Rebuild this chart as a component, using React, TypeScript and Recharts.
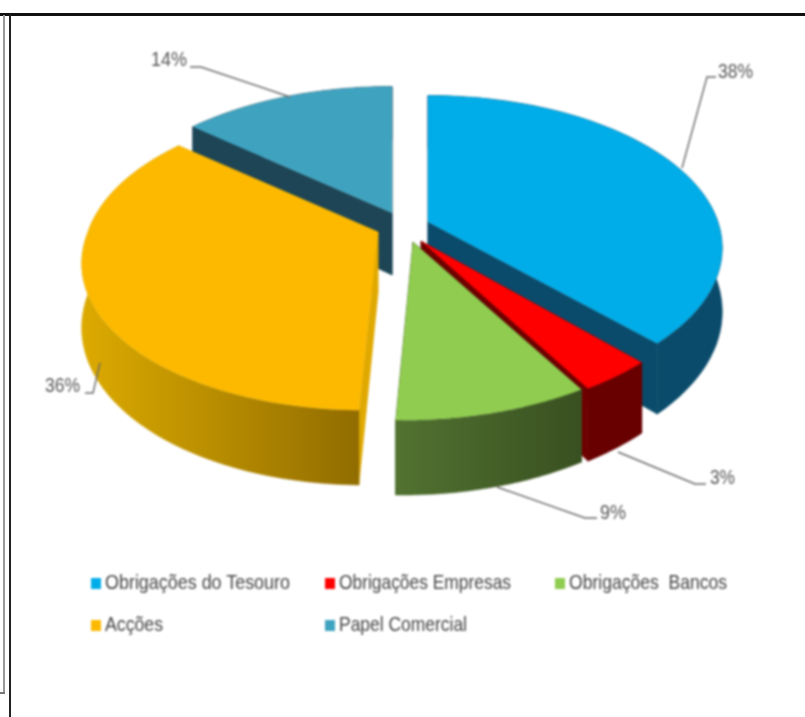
import { PieChart, Pie, Legend } from 'recharts'

const CATEGORIES = ['Obrigações do Tesouro', 'Obrigações Empresas', 'Obrigações  Bancos', 'Acções', 'Papel Comercial']
const SHARES = [37.8, 3.45, 9.05, 35.9, 13.8]
const SHARE_LABELS = ['38%', '3%', '9%', '36%', '14%']

// how each slice is drawn, same order as CATEGORIES
const SLICE_STYLES = [
  { top: '#00ade9', wall: '#0a4b6b', face: '#0a4b6b', dx: 28, dy: -8, lean: 0, text: [718, 71], textW: 35, leader: '716,77 707,77 682,168' },
  { top: '#fe0000', wall: '#680000', face: '#6e0000', dx: 21, dy: 11, lean: -0.07, text: [710, 477], textW: 25, leader: '706,484 695,484 618,452' },
  { top: '#8fcc4f', wall: 'url(#wallGreen)', face: '#3d5522', dx: 13, dy: 12, lean: -0.06, text: [600, 512], textW: 26, leader: '597,518 585,518 497,487' },
  { top: '#fcb900', wall: 'url(#wallYellow)', face: '#e0a900', dx: -22, dy: 2, lean: -0.07, text: [45, 385], textW: 35, leader: '85,393 93,393 100,363' },
  { top: '#3fa3c0', wall: '#1d4555', face: '#1d4555', dx: -8, dy: -17, lean: 0, text: [151, 59], textW: 36, leader: '190,67 201,67 290,97' },
]

// teal goes first so the yellow slice paints over its cut face
const DRAW_ORDER = [4, 0, 1, 2, 3]
const tableData = DRAW_ORDER.map((i) => ({ name: CATEGORIES[i], value: SHARES[i], idx: i }))
const total = SHARES.reduce((a, b) => a + b, 0)
const firstAngle = 90 + (SHARES[4] / total) * 360

const SQUASH = 148 / 290
const TILT = 0.17
const THICK = 62

// unit disc point -> screen, with a bit of perspective
function project(cx: number, cy: number, r: number, a: number, rad: number, lean: number, drop: boolean) {
  const u = Math.cos(a) * rad
  const v = -Math.sin(a) * rad
  const w = 1 - TILT * v
  const y = (r * SQUASH * v) / w
  const x = (r * u) / w + (y > 0 ? lean * y : 0)
  return [cx + x, cy + y + (drop ? THICK / w : 0)]
}

function pts(list: number[][]) {
  return list.map((p) => p[0].toFixed(1) + ',' + p[1].toFixed(1)).join(' ')
}

function Slice3D(props: any) {
  const { cx, cy, outerRadius, startAngle, endAngle, idx } = props
  const s = SLICE_STYLES[idx ?? props.payload?.idx]
  const x0 = cx + s.dx
  const y0 = cy + s.dy
  const a0 = (startAngle * Math.PI) / 180
  const a1 = (endAngle * Math.PI) / 180
  const steps = 60
  const topArc: number[][] = []
  const lowArc: number[][] = []
  for (let i = 0; i <= steps; i++) {
    const a = a0 + ((a1 - a0) * i) / steps
    topArc.push(project(x0, y0, outerRadius, a, 1, s.lean, false))
    lowArc.push(project(x0, y0, outerRadius, a, 1, s.lean, true))
  }
  const apex = [x0, y0]
  const apexLow = project(x0, y0, outerRadius, a0, 0, s.lean, true)
  return (
    <g>
      <polygon points={pts([apex, topArc[0], lowArc[0], apexLow])} fill={s.face} stroke={s.face} strokeWidth={0.6} />
      <polygon points={pts([apex, topArc[steps], lowArc[steps], apexLow])} fill={s.face} stroke={s.face} strokeWidth={0.6} />
      <polygon points={pts([...topArc, ...lowArc.slice().reverse()])} fill={s.wall} stroke={s.wall} strokeWidth={0.6} />
      <polygon points={pts([apex, ...topArc])} fill={s.top} />
    </g>
  )
}

function SliceLabel(props: any) {
  const idx = props.idx ?? props.payload?.idx
  const s = SLICE_STYLES[idx]
  return (
    <g>
      <polyline points={s.leader} fill="none" stroke="#6a6a6a" strokeWidth={1.4} />
      <text x={s.text[0]} y={s.text[1] + 7} fontFamily="Liberation Sans" fontSize={21} fill="#555" textLength={s.textW} lengthAdjust="spacingAndGlyphs">
        {SHARE_LABELS[idx]}
      </text>
    </g>
  )
}

const LEGEND_SPOTS = [
  { left: 91, top: 583, w: 185 },
  { left: 325, top: 583, w: 172 },
  { left: 555, top: 583, w: 158 },
  { left: 91, top: 625, w: 58 },
  { left: 325, top: 625, w: 128 },
]

function LegendBlock() {
  return (
    <div>
      {CATEGORIES.map((name, i) => (
        <div key={name}>
          <span style={{ position: 'absolute', left: LEGEND_SPOTS[i].left, top: LEGEND_SPOTS[i].top - 5, width: 10, height: 11, background: SLICE_STYLES[i].top }} />
          <svg style={{ position: 'absolute', left: LEGEND_SPOTS[i].left + 14, top: LEGEND_SPOTS[i].top - 14, overflow: 'visible' }} width={200} height={28}>
            <text x={0} y={20} fontFamily="Liberation Sans" fontSize={21} fill="#444" xmlSpace="preserve" textLength={LEGEND_SPOTS[i].w} lengthAdjust="spacingAndGlyphs">
              {name}
            </text>
          </svg>
        </div>
      ))}
    </div>
  )
}

export default function App() {
  return (
    <div style={{ position: 'absolute', left: 0, top: 0, width: 805, height: 717, background: '#fff', overflow: 'hidden' }}>
      <div style={{ position: 'absolute', left: 0, top: 0, width: 805, height: 717, filter: 'blur(0.9px)' }}>
        <PieChart width={805} height={717} margin={{ top: 0, right: 0, bottom: 0, left: 0 }} style={{ position: 'absolute', left: 0, top: 0 }}>
          <defs>
            <linearGradient id="wallYellow" gradientUnits="userSpaceOnUse" x1="82" y1="0" x2="362" y2="0">
              <stop offset="0%" stopColor="#dcaa00" />
              <stop offset="100%" stopColor="#906c00" />
            </linearGradient>
            <linearGradient id="wallGreen" gradientUnits="userSpaceOnUse" x1="398" y1="0" x2="580" y2="0">
              <stop offset="0%" stopColor="#517231" />
              <stop offset="100%" stopColor="#395020" />
            </linearGradient>
          </defs>
          <Pie
            data={tableData}
            dataKey="value"
            nameKey="name"
            cx={400}
            cy={230}
            innerRadius={0}
            outerRadius={290}
            startAngle={firstAngle}
            endAngle={firstAngle - 360}
            stroke="none"
            shape={Slice3D}
            label={SliceLabel}
            labelLine={false}
            isAnimationActive={false}
          />
          <Legend content={LegendBlock} wrapperStyle={{ left: 0, top: 0, bottom: 'auto', width: 805, height: 0 }} />
        </PieChart>
      </div>
      <div style={{ position: 'absolute', left: 0, top: 13, width: 805, height: 3, background: '#111' }} />
      <div style={{ position: 'absolute', left: 9, top: 14, width: 2, height: 703, background: '#222' }} />
      <div style={{ position: 'absolute', left: 3, top: 15, width: 2, height: 678, background: '#999' }} />
      <div style={{ position: 'absolute', left: 0, top: 692, width: 5, height: 2, background: '#777' }} />
    </div>
  )
}
